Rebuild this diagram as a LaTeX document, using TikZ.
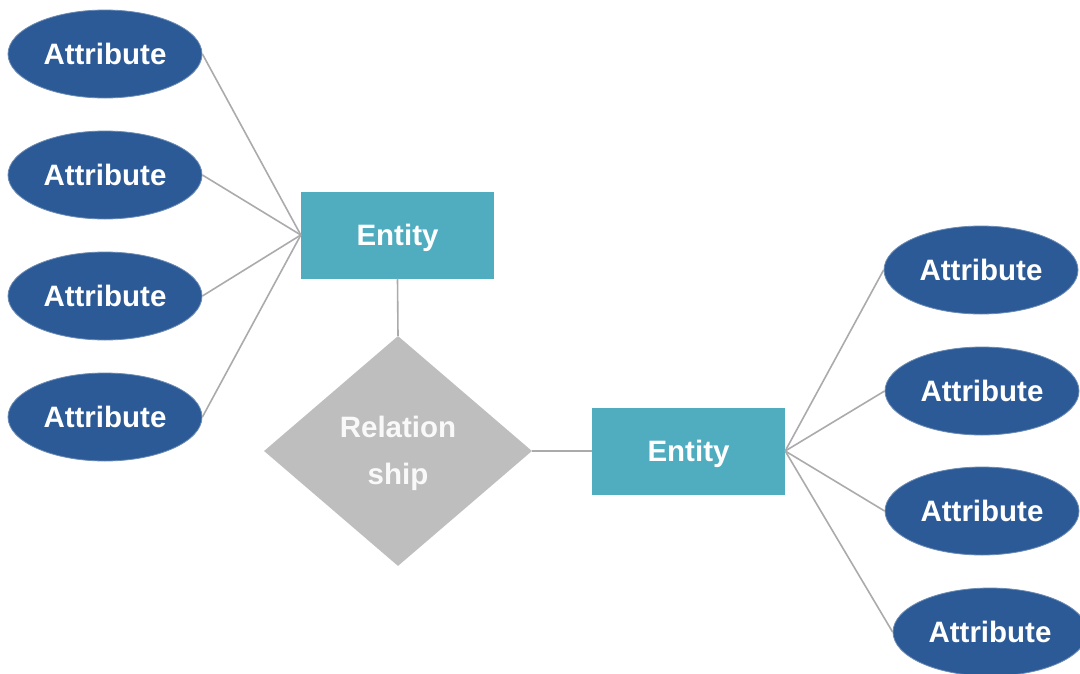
\documentclass[tikz,border=0pt]{standalone}
\usepackage{fontspec}
\setmainfont{Liberation Sans}
\usetikzlibrary{shapes.geometric}
\definecolor{attrblue}{HTML}{2C5A96}
\definecolor{entteal}{HTML}{4FADBF}
\definecolor{relgray}{HTML}{BDBEBD}
\definecolor{linegray}{HTML}{ABABAB}
\tikzset{
  attr/.style={ellipse, fill=attrblue, draw=attrblue!70!white, line width=0.8pt, minimum width=194pt, minimum height=88pt, inner sep=0pt, text=white, font=\fontsize{29.5}{34}\selectfont\bfseries},
  ent/.style={rectangle, fill=entteal, minimum width=193pt, minimum height=87pt, inner sep=0pt, text height=24pt, text depth=3pt, text=white, font=\fontsize{29.5}{34}\selectfont\bfseries},
  rel/.style={diamond, fill=relgray, minimum width=268pt, minimum height=230pt, inner sep=0pt, aspect=1.165, text=white!95!gray, align=center, font=\fontsize{29.5}{47}\selectfont\bfseries},
  conn/.style={draw=linegray, line width=1.6pt}
}
\begin{document}
\begin{tikzpicture}[x=1pt,y=-1pt]
\useasboundingbox (0,0) rectangle (1080,673);
\clip (0,0) rectangle (1080,673);
\fill[white] (0,0) rectangle (1080,673);
% nodes
\node[attr] (a1) at (105,54) {Attribute};
\node[attr] (a2) at (105,175) {Attribute};
\node[attr] (a3) at (105,296) {Attribute};
\node[attr] (a4) at (105,417) {Attribute};
\node[ent] (e1) at (397.5,235) {Entity};
\node[rel] (r) at (398,451) {\rule{0pt}{27pt}Relation\\ship};
\node[ent] (e2) at (688.5,451) {Entity};
\node[attr] (b1) at (981,270) {Attribute};
\node[attr] (b2) at (982,391) {Attribute};
\node[attr] (b3) at (982,511) {Attribute};
\node[attr] (b4) at (990,632) {Attribute};
% connectors
\foreach \a in {a1,a2,a3,a4} \draw[conn] (\a.east) -- (e1.west);
\foreach \b in {b1,b2,b3,b4} \draw[conn] (\b.west) -- (e2.east);
\draw[conn] (e1.south) -- (r.north);
\draw[conn] (r.east) -- (e2.west);
\end{tikzpicture}
\end{document}
